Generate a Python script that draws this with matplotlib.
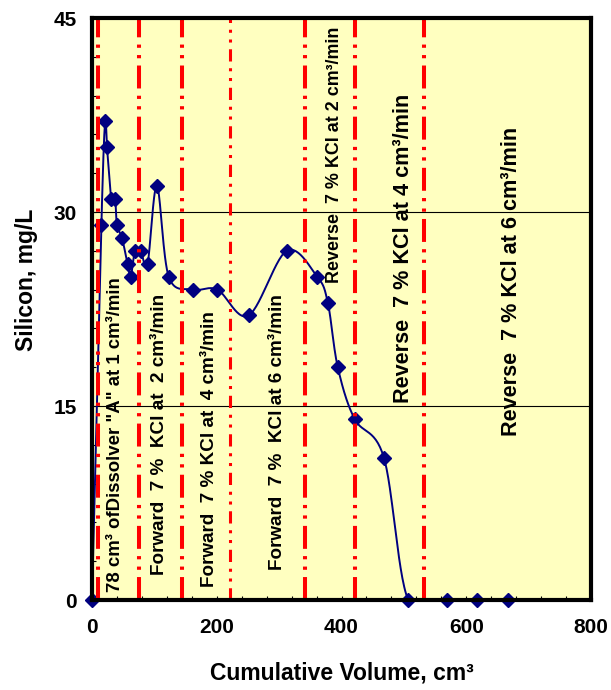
import numpy as np
import matplotlib
matplotlib.use("Agg")
import matplotlib.pyplot as plt
from matplotlib import font_manager

# Silicon concentration in the effluent vs. cumulative volume
volume = [0, 15, 21, 24, 31, 37, 40, 48, 57, 62, 69, 78, 89, 104, 123,
          162, 201, 251, 312, 361, 378, 394, 421, 468, 507, 569, 618, 667]
silicon = [0, 29, 37, 35, 31, 31, 29, 28, 26, 25, 27, 27, 26, 32, 25,
           24, 24, 22, 27, 25, 23, 18, 14, 11, 0, 0, 0, 0]

# Volumes where the injection stage changes
stage_bounds = [9, 76, 144, 222, 341, 421, 533]

stage_labels = [
    '78 cm\u00b3 ofDissolver "A" at 1 cm\u00b3/min',
    'Forward  7 %  KCl at  2 cm\u00b3/min',
    'Forward  7 % KCl at  4 cm\u00b3/min',
    'Forward  7 %  KCl at 6 cm\u00b3/min',
    'Reverse  7 % KCl at 2 cm\u00b3/min',
    'Reverse  7 % KCl at 4 cm\u00b3/min',
    'Reverse  7 % KCl at 6 cm\u00b3/min',
]

x_ticks = [0, 200, 400, 600, 800]
y_ticks = [0, 15, 30, 45]

installed = {f.name for f in font_manager.fontManager.ttflist}
narrow = 'Liberation Sans Narrow' if 'Liberation Sans Narrow' in installed else 'Liberation Sans'
plt.rcParams['font.family'] = ['Liberation Sans', 'DejaVu Sans']


def smooth_curve(xs, ys, n=30):
    """Catmull-Rom style Bezier smoothing through every point."""
    p = np.column_stack([xs, ys]).astype(float)
    ext = np.vstack([p[0], p, p[-1]])
    out = []
    t = np.linspace(0, 1, n)[:, None]
    for i in range(len(p) - 1):
        p0, p3 = ext[i + 1], ext[i + 2]
        c1 = p0 + (ext[i + 2] - ext[i]) / 6.0
        c2 = p3 - (ext[i + 3] - ext[i + 1]) / 6.0
        seg = ((1 - t) ** 3) * p0 + 3 * ((1 - t) ** 2) * t * c1 \
            + 3 * (1 - t) * t ** 2 * c2 + t ** 3 * p3
        out.append(seg if i == 0 else seg[1:])
    s = np.vstack(out)
    return s[:, 0], s[:, 1]


fig = plt.figure(figsize=(6.11, 6.90), dpi=100)
ax = fig.add_axes([0.1506, 0.1304, 0.8167, 0.8435])
ax.set_facecolor('#FFFFC0')
ax.set_xlim(0, 800)
ax.set_ylim(0, 45)

for v in [15, 30]:
    ax.axhline(v, color='black', lw=0.8, zorder=1)

sx, sy = smooth_curve(volume, silicon)
ax.plot(sx, sy, color='#000080', lw=1.4, zorder=3)
ax.plot(volume, silicon, linestyle='none', marker='D', ms=7.5,
        color='#000080', zorder=4, clip_on=False)

# stage boundaries
ddd = (0, (5.7, 1.8, 0.8, 1.8, 0.8, 1.8))
for i, b in enumerate(stage_bounds):
    if i == 3:
        ax.axvline(b, color='red', lw=2.2, linestyle=(0, (4.0, 2.2, 1.0, 2.2, 1.0, 2.2)), zorder=5)
    else:
        ax.axvline(b, color='red', lw=2.9, linestyle=ddd, zorder=5)

label_spec = [
    (37, 0.6, 'bottom', 13.4),
    (108, 1.9, 'bottom', 13.6),
    (188, 1.0, 'bottom', 13.6),
    (298, 2.3, 'bottom', 13.6),
    (389, 44.3, 'top', 12.9),
    (499, 27.2, 'center', 15.6),
    (672, 24.6, 'center', 15.6),
]
for txt, (x, y, va, fs) in zip(stage_labels, label_spec):
    ax.text(x, y, txt, rotation=90, ha='center', va=va, fontsize=fs,
            fontweight='bold', family=[narrow, 'DejaVu Sans'], color='black', zorder=6)

ax.set_xticks(x_ticks)
ax.set_yticks(y_ticks)
ax.set_xticks(np.arange(0, 801, 40), minor=True)
ax.set_yticks(np.arange(0, 46, 3), minor=True)
ax.tick_params(which='both', direction='in', length=3, width=0.8, color='black')
ax.tick_params(axis='x', which='major', pad=13, labelsize=15)
ax.tick_params(axis='y', which='major', pad=11, labelsize=15)
for lab in ax.get_xticklabels() + ax.get_yticklabels():
    lab.set_fontweight('bold')

for sp in ax.spines.values():
    sp.set_linewidth(3.0)
    sp.set_color('black')
    sp.set_zorder(7)

ax.set_xlabel('Cumulative Volume, cm\u00b3', fontsize=16.5, fontweight='bold')
ax.set_ylabel('Silicon, mg/L', fontsize=16.5, fontweight='bold')
ax.xaxis.set_label_coords(0.5, -0.105)
ax.yaxis.set_label_coords(-0.108, 0.55)

fig.savefig('out.png', dpi=100, facecolor='white')
